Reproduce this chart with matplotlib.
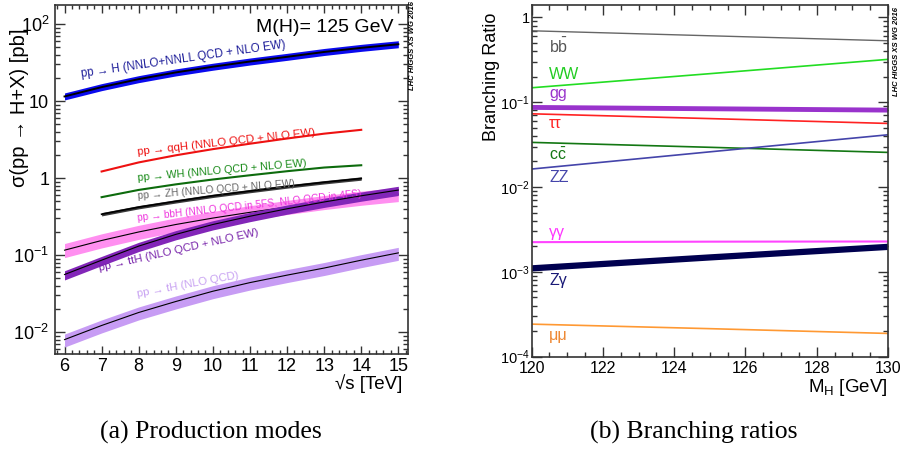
import matplotlib
matplotlib.use('Agg')
import matplotlib.pyplot as plt
from matplotlib.ticker import MultipleLocator, LogLocator, NullFormatter, FixedLocator, FixedFormatter
import numpy as np

plt.rcParams['font.family'] = ['Liberation Sans', 'DejaVu Sans']
plt.rcParams['mathtext.fontset'] = 'custom'
plt.rcParams['mathtext.rm'] = 'Liberation Sans'
plt.rcParams['mathtext.it'] = 'Liberation Sans:italic'
plt.rcParams['mathtext.default'] = 'regular'

# --- production cross sections [pb] vs sqrt(s) [TeV], M(H)=125 GeV
sqrt_s = [6, 7, 8, 9, 10, 11, 12, 13, 14, 15]
sqrt_s_short = [7, 8, 9, 10, 11, 12, 13, 14]

xs_ggh = [11.5, 15.2, 19.3, 23.6, 28.0, 32.7, 37.6, 43.5, 49.2, 54.8]
xs_qqh = [1.22, 1.60, 1.98, 2.38, 2.80, 3.27, 3.78, 4.24]
xs_wh = [0.566, 0.703, 0.83, 0.96, 1.09, 1.23, 1.373, 1.47]
xs_zh = [0.34, 0.42, 0.50, 0.59, 0.68, 0.78, 0.884, 0.99]
xs_bbh = [0.116, 0.155, 0.200, 0.250, 0.303, 0.360, 0.421, 0.488, 0.555, 0.62]
xs_tth = [0.056, 0.086, 0.131, 0.186, 0.250, 0.32, 0.40, 0.49, 0.59, 0.70]
xs_th = [0.0080, 0.0122, 0.0180, 0.0250, 0.0340, 0.0440, 0.0550, 0.0680, 0.0860, 0.107]

# relative band widths (up, down)
unc_ggh = (1.11, 0.90)
unc_zh = (1.05, 0.95)
unc_bbh = (1.22, 0.80)
unc_tth = (1.12, 0.85)
unc_th = (1.18, 0.80)

# --- branching ratios vs M_H [GeV]
m_h = [120, 125, 130]
br_bb = [0.695, 0.607, 0.530]
br_ww = [0.148, 0.217, 0.320]
br_gg = [0.0868, 0.0837, 0.0807]
br_tautau = [0.0730, 0.0641, 0.0562]
br_cc = [0.0336, 0.0294, 0.0256]
br_zz = [0.0163, 0.0260, 0.0413]
br_gamgam = [0.00224, 0.00227, 0.00228]
br_zgam = [0.00110, 0.00148, 0.00197]
br_mumu = [0.000242, 0.000214, 0.000188]

fig = plt.figure(figsize=(9.01, 4.53), dpi=100)
ax1 = fig.add_axes([0.0607, 0.2185, 0.3925, 0.7704])
ax2 = fig.add_axes([0.5901, 0.2126, 0.3955, 0.7764])


def band(ax, x, y, unc, color, lw=0.8, zorder=2):
    y = np.array(y)
    ax.fill_between(x, y * unc[1], y * unc[0], color=color, lw=0, zorder=zorder)
    ax.plot(x, y, color='black', lw=lw, zorder=zorder + 0.1)


band(ax1, sqrt_s, xs_ggh, unc_ggh, '#0a0aee', lw=1.4)
ax1.plot(sqrt_s_short, xs_qqh, color='#ee1111', lw=1.5)
ax1.plot(sqrt_s_short, xs_wh, color='#0d6b0d', lw=1.5)
band(ax1, sqrt_s_short, xs_zh, unc_zh, '#3a3a3a', lw=1.2)
band(ax1, sqrt_s, xs_bbh, unc_bbh, '#ff8ff0', zorder=2)
band(ax1, sqrt_s, xs_tth, unc_tth, '#8226b8', zorder=3)
band(ax1, sqrt_s, xs_th, unc_th, '#c79cf4', zorder=2)

ax1.set_yscale('log')
ax1.set_xlim(5.735, 15.27)
ax1.set_ylim(0.0052, 177)

lab = dict(rotation_mode='anchor', ha='left', va='bottom')
ax1.text(6.47, 18.6, 'pp → H (NNLO+NNLL QCD + NLO EW)', color='#1c1c99', rotation=8.2, fontsize=8.3, **lab)
ax1.text(7.98, 1.88, 'pp → qqH (NNLO QCD + NLO EW)', color='#ee1111', rotation=6.3, fontsize=8.2, **lab)
ax1.text(7.98, 0.86, 'pp → WH (NNLO QCD + NLO EW)', color='#178a17', rotation=5.0, fontsize=7.8, **lab)
ax1.text(7.98, 0.51, 'pp → ZH (NNLO QCD + NLO EW)', color='#666666', rotation=4.5, fontsize=7.4, **lab)
ax1.text(7.98, 0.262, 'pp → bbH (NNLO QCD in 5FS, NLO QCD in 4FS)', color='#ee33dd', rotation=6.2, fontsize=7.3, **lab)
ax1.text(6.96, 0.0585, 'pp → ttH (NLO QCD + NLO EW)', color='#7722aa', rotation=12.7, fontsize=8.1, **lab)
ax1.text(7.98, 0.0268, 'pp → tH (NLO QCD)', color='#c8a2f2', rotation=10.5, fontsize=8.1, **lab)
ax1.text(0.957, 0.937, 'M(H)= 125 GeV', transform=ax1.transAxes, ha='right', va='center', fontsize=14)

ax1.xaxis.set_major_locator(MultipleLocator(1))
ax1.xaxis.set_minor_locator(MultipleLocator(0.2))
ax1.yaxis.set_major_locator(FixedLocator([0.01, 0.1, 1, 10, 100]))
ax1.yaxis.set_major_formatter(FixedFormatter(['10$^{-2}$', '10$^{-1}$', '1', '10', '10$^{2}$']))
ax1.yaxis.set_minor_locator(LogLocator(base=10, subs=np.arange(2, 10)))
ax1.yaxis.set_minor_formatter(NullFormatter())
ax1.tick_params(axis='x', which='both', labelsize=13, pad=3)
ax1.tick_params(axis='y', which='both', labelsize=13, pad=4)
ax1.tick_params(axis='y', which='major', length=7.5)
ax1.tick_params(axis='y', which='minor', length=3.8)
ax1.tick_params(axis='x', which='major', length=5.5)
ax1.tick_params(axis='x', which='minor', length=3)

# branching ratios
ax2.plot(m_h, br_bb, color='#666666', lw=1.0)
ax2.plot(m_h, br_ww, color='#22dd22', lw=1.2)
ax2.plot(m_h, br_gg, color='#9933cc', lw=3.5)
ax2.plot(m_h, br_tautau, color='#ff2222', lw=1.2)
ax2.plot(m_h, br_cc, color='#137713', lw=1.2)
ax2.plot(m_h, br_zz, color='#4444aa', lw=1.2)
ax2.plot(m_h, br_gamgam, color='#ff44ff', lw=1.5)
ax2.plot(m_h, br_zgam, color='#00004f', lw=4.5)
ax2.plot(m_h, br_mumu, color='#ff9933', lw=1.2)

ax2.set_yscale('log')
ax2.set_xlim(120, 130)
ax2.set_ylim(1e-4, 1.40)

blab = dict(fontsize=11.5, ha='left', va='center')
ax2.text(120.49, 0.45, r'$b\bar{b}$', color='#555555', **blab)
ax2.text(120.49, 0.214, 'WW', color='#22cc22', **blab)
ax2.text(120.49, 0.128, 'gg', color='#9933cc', **blab)
ax2.text(120.49, 0.0567, 'ττ', color='#ff2222', **blab)
ax2.text(120.49, 0.0238, r'$c\bar{c}$', color='#137713', **blab)
ax2.text(120.49, 0.0131, 'ZZ', color='#4444aa', **blab)
ax2.text(120.49, 0.00294, 'γγ', color='#ff33ff', **blab)
ax2.text(120.49, 0.000798, 'Zγ', color='#1a1a77', **blab)
ax2.text(120.49, 0.000179, 'μμ', color='#ee8833', **blab)

ax2.xaxis.set_major_locator(MultipleLocator(2))
ax2.xaxis.set_minor_locator(MultipleLocator(0.5))
ax2.yaxis.set_major_locator(FixedLocator([1e-4, 1e-3, 1e-2, 0.1, 1]))
ax2.yaxis.set_major_formatter(FixedFormatter(['10$^{-4}$', '10$^{-3}$', '10$^{-2}$', '10$^{-1}$', '1']))
ax2.yaxis.set_minor_locator(LogLocator(base=10, subs=np.arange(2, 10)))
ax2.yaxis.set_minor_formatter(NullFormatter())
ax2.tick_params(axis='x', which='both', labelsize=11.5, pad=3)
ax2.tick_params(axis='y', which='both', labelsize=10.5, pad=1.5)
ax2.tick_params(axis='y', which='major', length=7.5)
ax2.tick_params(axis='y', which='minor', length=3.8)
ax2.tick_params(axis='x', which='major', length=7)
ax2.tick_params(axis='x', which='minor', length=3.5)

for ax in (ax1, ax2):
    ax.tick_params(which='both', direction='in', top=True, right=True, color='#333333', width=1.0)
    for sp in ax.spines.values():
        sp.set_color('#333333')
        sp.set_linewidth(1.2)

fig.text(20 / 901, 1 - 108 / 453, 'σ(pp → H+X) [pb]', rotation=90, ha='center', va='center', fontsize=14.5)
fig.text(492 / 901, 1 - 77 / 453, 'Branching Ratio', rotation=90, ha='center', va='center', fontsize=13)
fig.text(402 / 901, 1 - 384 / 453, '√s [TeV]', ha='right', va='center', fontsize=13.5)
fig.text(888 / 901, 1 - 387 / 453, 'M$_{H}$ [GeV]', ha='right', va='center', fontsize=13.5)

fig.text(413 / 901, 1 - 45 / 453, 'LHC HIGGS XS WG 2016', rotation=90, ha='center', va='center',
         fontsize=5.5, fontweight='bold', style='italic')
fig.text(897 / 901, 1 - 52 / 453, 'LHC HIGGS XS WG 2016', rotation=90, ha='center', va='center',
         fontsize=5.5, fontweight='bold', style='italic')

fig.text(211 / 901, 1 - 432 / 453, '(a) Production modes', ha='center', va='center',
         fontsize=18.5, family='Liberation Serif')
fig.text(694 / 901, 1 - 432 / 453, '(b) Branching ratios', ha='center', va='center',
         fontsize=18.5, family='Liberation Serif')

fig.savefig('out.png', dpi=100)
